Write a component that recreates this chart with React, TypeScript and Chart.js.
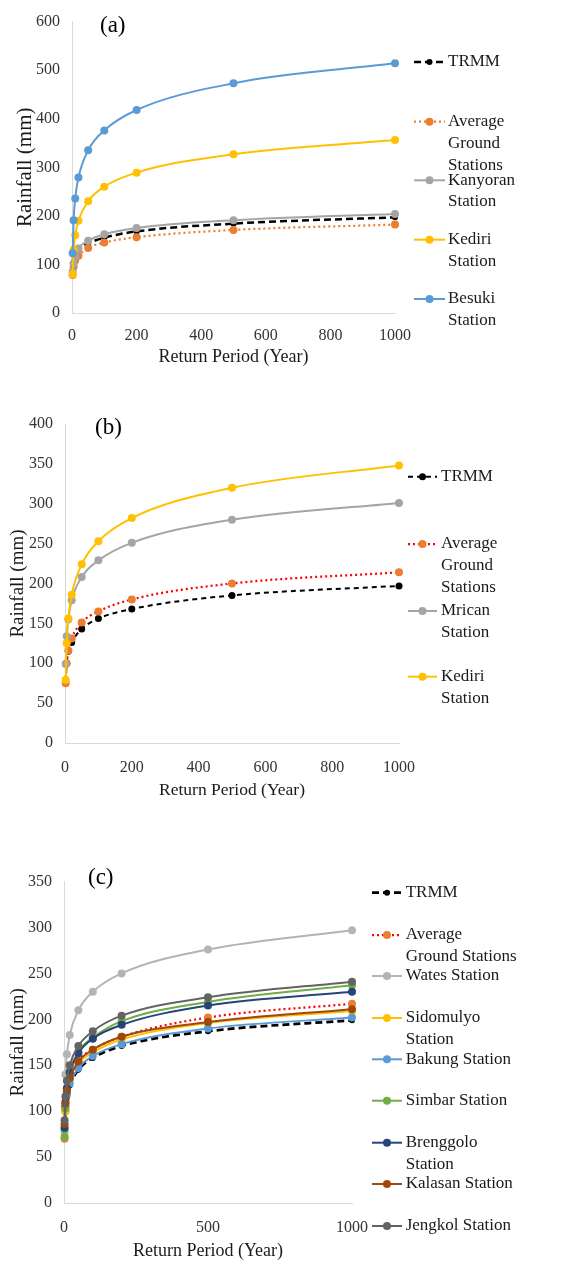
import React, { useEffect, useRef } from "react";
import { Chart, registerables } from "chart.js";
Chart.register(...registerables);

const returnPeriods = [2, 5, 10, 20, 50, 100, 200, 500, 1000];

// Panel (a)
const aTRMM = [80, 103, 115, 130, 143, 155, 168, 184, 197];
const aAverage = [78, 95, 108, 118, 134, 145, 156, 171, 182];
const aKanyoran = [85, 102, 117, 133, 149, 162, 175, 191, 204];
const aKediri = [80, 130, 160, 190, 230, 260, 289, 327, 356];
const aBesuki = [123, 191, 236, 279, 335, 376, 418, 473, 514];

// Panel (b)
const bTRMM = [79, 100, 115, 126, 143, 156, 168, 185, 197];
const bAverage = [75, 100, 116, 131, 151, 165, 180, 200, 214];
const bMrican = [99, 134, 155, 179, 208, 229, 251, 280, 301];
const bKediri = [79, 125, 156, 186, 224, 253, 282, 320, 348];

// Panel (c)
const cTRMM = [80, 100, 115, 128, 145, 158, 171, 187, 199];
const cAverage = [70, 100, 120, 135, 155, 167, 181, 202, 217];
const cWates = [105, 140, 162, 183, 210, 230, 250, 276, 297];
const cSidomulyo = [77, 100, 120, 135, 152, 164, 178, 196, 209];
const cBakung = [80, 105, 118, 130, 147, 160, 173, 190, 202];
const cSimbar = [72, 103, 125, 143, 165, 180, 198, 219, 237];
const cBrenggolo = [82, 110, 125, 142, 163, 179, 194, 215, 230];
const cKalasan = [86, 108, 122, 136, 154, 167, 181, 197, 211];
const cJengkol = [90, 116, 133, 150, 171, 187, 204, 224, 241];

const FONT = "'Liberation Serif', 'Times New Roman', serif";

type SeriesDef = {
  label: string[];
  data: number[];
  color: string;
  point: string;
  width: number;
  dash?: number[];
  radius: number;
  legendY: number;
};

type PanelDef = {
  top: number;
  height: number;
  plotLeft: number;
  plotRight: number;
  plotTop: number;
  plotBottom: number;
  yMax: number;
  yStep: number;
  xStep: number;
  tickPad: number;
  xTitleSize: number;
  xTitlePad: number;
  yTitleSize: number;
  yTitlePad: number;
  panel: string;
  panelX: number;
  panelY: number;
  legLine1: number;
  legLine2: number;
  legText: number;
  series: SeriesDef[];
};

const sideLegend = {
  id: "sideLegend",
  afterDraw(chart: any, _args: any, opts: any) {
    const ctx = chart.ctx as CanvasRenderingContext2D;
    const p: PanelDef = opts.panel;
    if (!p) return;
    ctx.save();
    p.series.forEach((s) => {
      const y = s.legendY - p.top;
      ctx.strokeStyle = s.color;
      ctx.lineWidth = s.width;
      ctx.setLineDash(s.dash || []);
      ctx.beginPath();
      ctx.moveTo(p.legLine1, y);
      ctx.lineTo(p.legLine2, y);
      ctx.stroke();
      ctx.setLineDash([]);
      ctx.fillStyle = s.point;
      ctx.beginPath();
      ctx.arc((p.legLine1 + p.legLine2) / 2, y, s.radius, 0, Math.PI * 2);
      ctx.fill();
      ctx.fillStyle = "#1a1a1a";
      ctx.font = `17px ${FONT}`;
      ctx.textBaseline = "middle";
      ctx.textAlign = "left";
      s.label.forEach((t, i) => ctx.fillText(t, p.legText, y + i * 21.7));
    });
    ctx.fillStyle = "#000";
    ctx.font = `23px ${FONT}`;
    ctx.textBaseline = "middle";
    ctx.textAlign = "left";
    ctx.fillText(p.panel, p.panelX, p.panelY - p.top);
    ctx.restore();
  },
};

const panels: PanelDef[] = [
  {
    top: 0, height: 390, plotLeft: 72, plotRight: 395, plotTop: 14, plotBottom: 313,
    yMax: 600, yStep: 100, xStep: 200, tickPad: 13,
    xTitleSize: 18, xTitlePad: 22.2, yTitleSize: 21, yTitlePad: 12.4,
    panel: "(a)", panelX: 100, panelY: 26, legLine1: 414, legLine2: 445, legText: 448,
    series: [
      { label: ["TRMM"], data: aTRMM, color: "#000000", point: "#000000", width: 2.5, dash: [7, 4], radius: 3, legendY: 62 },
      { label: ["Average", "Ground", "Stations"], data: aAverage, color: "#ED7D31", point: "#ED7D31", width: 2.25, dash: [2, 3], radius: 4, legendY: 121.7 },
      { label: ["Kanyoran", "Station"], data: aKanyoran, color: "#A5A5A5", point: "#A5A5A5", width: 2, radius: 4, legendY: 180.3 },
      { label: ["Kediri", "Station"], data: aKediri, color: "#FFC000", point: "#FFC000", width: 2, radius: 4, legendY: 239.7 },
      { label: ["Besuki", "Station"], data: aBesuki, color: "#5B9BD5", point: "#5B9BD5", width: 2, radius: 4, legendY: 299 },
    ],
  },
  {
    top: 400, height: 420, plotLeft: 65, plotRight: 399, plotTop: 424, plotBottom: 743,
    yMax: 400, yStep: 50, xStep: 200, tickPad: 15,
    xTitleSize: 17.5, xTitlePad: 19.5, yTitleSize: 19, yTitlePad: 6.6,
    panel: "(b)", panelX: 95, panelY: 428, legLine1: 408, legLine2: 437, legText: 441,
    series: [
      { label: ["TRMM"], data: bTRMM, color: "#000000", point: "#000000", width: 2, dash: [5, 4], radius: 3.5, legendY: 476.7 },
      { label: ["Average", "Ground", "Stations"], data: bAverage, color: "#FF0000", point: "#ED7D31", width: 2.25, dash: [2, 3], radius: 4, legendY: 544 },
      { label: ["Mrican", "Station"], data: bMrican, color: "#A5A5A5", point: "#A5A5A5", width: 2, radius: 4, legendY: 611 },
      { label: ["Kediri", "Station"], data: bKediri, color: "#FFC000", point: "#FFC000", width: 2, radius: 4, legendY: 676.7 },
    ],
  },
  {
    top: 860, height: 403, plotLeft: 64, plotRight: 352, plotTop: 879, plotBottom: 1203,
    yMax: 350, yStep: 50, xStep: 500, tickPad: 15,
    xTitleSize: 18, xTitlePad: 1.2, yTitleSize: 19, yTitlePad: 6.6,
    panel: "(c)", panelX: 88, panelY: 878, legLine1: 372, legLine2: 402, legText: 405.7,
    series: [
      { label: ["TRMM"], data: cTRMM, color: "#000000", point: "#000000", width: 2.75, dash: [7, 4], radius: 3, legendY: 892.7 },
      { label: ["Average", "Ground Stations"], data: cAverage, color: "#FF0000", point: "#ED7D31", width: 2.25, dash: [2, 3], radius: 4, legendY: 935 },
      { label: ["Wates Station"], data: cWates, color: "#B4B4B4", point: "#B4B4B4", width: 2, radius: 4, legendY: 976 },
      { label: ["Sidomulyo", "Station"], data: cSidomulyo, color: "#FFC000", point: "#FFC000", width: 2, radius: 4, legendY: 1018 },
      { label: ["Bakung Station"], data: cBakung, color: "#5B9BD5", point: "#5B9BD5", width: 2, radius: 4, legendY: 1059.3 },
      { label: ["Simbar Station"], data: cSimbar, color: "#70AD47", point: "#70AD47", width: 2, radius: 4, legendY: 1100.7 },
      { label: ["Brenggolo", "Station"], data: cBrenggolo, color: "#264478", point: "#264478", width: 2, radius: 4, legendY: 1142.7 },
      { label: ["Kalasan Station"], data: cKalasan, color: "#9E480E", point: "#9E480E", width: 2, radius: 4, legendY: 1184 },
      { label: ["Jengkol Station"], data: cJengkol, color: "#636363", point: "#636363", width: 2, radius: 4, legendY: 1226 },
    ],
  },
];

function Panel({ p }: { p: PanelDef }) {
  const ref = useRef<HTMLCanvasElement>(null);
  useEffect(() => {
    if (!ref.current) return;
    const tickFont = { family: FONT, size: 16 };
    const chart = new Chart(ref.current, {
      type: "line",
      data: {
        datasets: p.series.map((s, i) => ({
          label: s.label.join(" "),
          data: returnPeriods.map((x, j) => ({ x, y: s.data[j] })),
          borderColor: s.color,
          backgroundColor: s.point,
          pointBackgroundColor: s.point,
          pointBorderColor: s.point,
          pointBorderWidth: 0,
          pointRadius: s.radius,
          borderWidth: s.width,
          borderDash: s.dash || [],
          cubicInterpolationMode: "monotone" as const,
          fill: false,
          clip: false as any,
          order: -i,
        })),
      },
      options: {
        animation: false,
        responsive: false,
        maintainAspectRatio: false,
        layout: {
          padding: { left: 0, top: p.plotTop - p.top, right: 580 - p.plotRight, bottom: 0 },
        },
        plugins: {
          legend: { display: false },
          tooltip: { enabled: false },
          sideLegend: { panel: p },
        } as any,
        scales: {
          x: {
            type: "linear",
            min: 0,
            max: 1000,
            ticks: {
              stepSize: p.xStep,
              font: tickFont,
              color: "#333",
              padding: p.tickPad,
              maxRotation: 0,
              callback: (v: any) => String(v),
            },
            grid: { display: false, drawTicks: false },
            border: { display: true, color: "#D9D9D9", width: 1 },
            title: {
              display: true,
              text: "Return Period (Year)",
              font: { family: FONT, size: p.xTitleSize },
              color: "#1a1a1a",
              padding: { top: 0, bottom: p.xTitlePad },
            },
            afterFit: (scale: any) => {
              scale.height = p.top + p.height - p.plotBottom;
            },
          },
          y: {
            min: 0,
            max: p.yMax,
            ticks: { stepSize: p.yStep, font: tickFont, color: "#333", padding: 12, callback: (v: any) => String(v) },
            grid: { display: false, drawTicks: false },
            border: { display: true, color: "#D9D9D9", width: 1 },
            title: {
              display: true,
              text: "Rainfall (mm)",
              font: { family: FONT, size: p.yTitleSize },
              color: "#1a1a1a",
              padding: { top: p.yTitlePad, bottom: 0 },
            },
            afterFit: (scale: any) => {
              scale.width = p.plotLeft;
            },
          },
        },
      },
      plugins: [sideLegend as any],
    });
    return () => chart.destroy();
  }, [p]);
  return (
    <canvas
      ref={ref}
      width={580}
      height={p.height}
      style={{ position: "absolute", left: 0, top: p.top, width: 580, height: p.height }}
    />
  );
}

export default function App() {
  return (
    <div style={{ position: "absolute", left: 0, top: 0, width: 580, height: 1263, background: "#fff" }}>
      {panels.map((p) => (
        <Panel key={p.panel} p={p} />
      ))}
    </div>
  );
}
